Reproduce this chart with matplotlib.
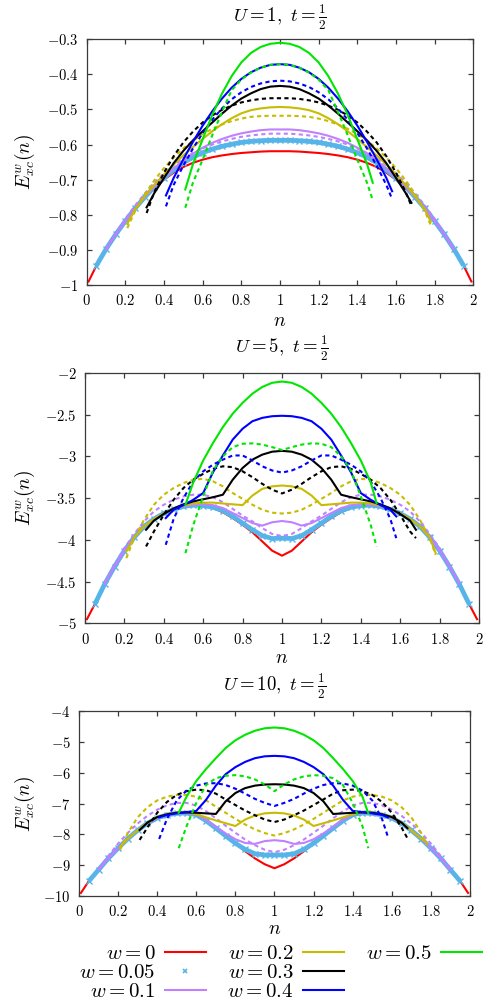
import matplotlib
matplotlib.use("Agg")
import matplotlib.pyplot as plt
from matplotlib.lines import Line2D
from matplotlib.ticker import FuncFormatter, MultipleLocator

plt.rcParams["font.family"] = ["serif"]
plt.rcParams["mathtext.fontset"] = "cm"

# n grids, one per ensemble weight w (curves live on roughly [w, 2-w])
n_w0 = [0.01, 0.05, 0.1, 0.15, 0.2, 0.25, 0.3, 0.35, 0.4, 0.45, 0.5, 0.55, 0.6, 0.65, 0.7, 0.75, 0.8, 0.85, 0.9, 0.95, 1.0,
        1.05, 1.1, 1.15, 1.2, 1.25, 1.3, 1.35, 1.4, 1.45, 1.5, 1.55, 1.6, 1.65, 1.7, 1.75, 1.8, 1.85, 1.9, 1.95, 1.99]
n_w005 = [0.05, 0.1, 0.15, 0.2, 0.25, 0.3, 0.35, 0.4, 0.45, 0.5, 0.55, 0.6, 0.65, 0.7, 0.75, 0.8, 0.85, 0.9, 0.95, 1.0,
          1.05, 1.1, 1.15, 1.2, 1.25, 1.3, 1.35, 1.4, 1.45, 1.5, 1.55, 1.6, 1.65, 1.7, 1.75, 1.8, 1.85, 1.9, 1.95]
n_w01 = [0.1, 0.15, 0.2, 0.25, 0.3, 0.35, 0.4, 0.45, 0.5, 0.55, 0.6, 0.65, 0.7, 0.75, 0.8, 0.85, 0.9, 0.95, 1.0,
         1.05, 1.1, 1.15, 1.2, 1.25, 1.3, 1.35, 1.4, 1.45, 1.5, 1.55, 1.6, 1.65, 1.7, 1.75, 1.8, 1.85, 1.9]
n_w02 = [0.21, 0.25, 0.3, 0.35, 0.4, 0.45, 0.5, 0.55, 0.6, 0.65, 0.7, 0.75, 0.8, 0.85, 0.9, 0.95, 1.0,
         1.05, 1.1, 1.15, 1.2, 1.25, 1.3, 1.35, 1.4, 1.45, 1.5, 1.55, 1.6, 1.65, 1.7, 1.75, 1.78]
n_w03 = [0.31, 0.35, 0.4, 0.45, 0.5, 0.55, 0.6, 0.65, 0.7, 0.75, 0.8, 0.85, 0.9, 0.95, 1.0,
         1.05, 1.1, 1.15, 1.2, 1.25, 1.3, 1.35, 1.4, 1.45, 1.5, 1.55, 1.6, 1.65, 1.68]
n_w04 = [0.41, 0.45, 0.5, 0.55, 0.6, 0.65, 0.7, 0.75, 0.8, 0.85, 0.9, 0.95, 1.0,
         1.05, 1.1, 1.15, 1.2, 1.25, 1.3, 1.35, 1.4, 1.45, 1.5, 1.55, 1.58]
n_w05 = [0.51, 0.55, 0.6, 0.65, 0.7, 0.75, 0.8, 0.85, 0.9, 0.95, 1.0,
         1.05, 1.1, 1.15, 1.2, 1.25, 1.3, 1.35, 1.4, 1.45, 1.48]

# ---- U = 1 ----
u1_w0 = [-0.990, -0.945, -0.898, -0.856, -0.818, -0.782, -0.751, -0.723, -0.700, -0.680, -0.664, -0.652, -0.643, -0.636,
         -0.631, -0.627, -0.624, -0.622, -0.620, -0.619, -0.619, -0.619, -0.620, -0.622, -0.624, -0.627, -0.631, -0.636,
         -0.643, -0.652, -0.664, -0.680, -0.700, -0.723, -0.751, -0.782, -0.818, -0.856, -0.898, -0.945, -0.990]
u1_w005 = [-0.945, -0.898, -0.856, -0.818, -0.782, -0.750, -0.721, -0.695, -0.672, -0.652, -0.636, -0.623, -0.613,
           -0.605, -0.599, -0.594, -0.591, -0.589, -0.588, -0.588, -0.588, -0.589, -0.591, -0.594, -0.599, -0.605,
           -0.613, -0.623, -0.636, -0.652, -0.672, -0.695, -0.721, -0.750, -0.782, -0.818, -0.856, -0.898, -0.945]
u1_w01 = [-0.898, -0.856, -0.818, -0.782, -0.750, -0.721, -0.694, -0.669, -0.646, -0.626, -0.609, -0.595, -0.584,
          -0.575, -0.568, -0.563, -0.559, -0.557, -0.557, -0.557, -0.559, -0.563, -0.568, -0.575, -0.584, -0.595,
          -0.609, -0.626, -0.646, -0.669, -0.694, -0.721, -0.750, -0.782, -0.818, -0.856, -0.898]
u1_w01_d = [-0.898, -0.853, -0.812, -0.774, -0.740, -0.709, -0.682, -0.659, -0.640, -0.624, -0.611, -0.600, -0.591,
            -0.584, -0.578, -0.574, -0.571, -0.569, -0.569, -0.569, -0.571, -0.574, -0.578, -0.584, -0.591, -0.600,
            -0.611, -0.624, -0.640, -0.659, -0.682, -0.709, -0.740, -0.774, -0.812, -0.853, -0.898]
u1_w02 = [-0.826, -0.785, -0.748, -0.715, -0.685, -0.657, -0.631, -0.607, -0.584, -0.562, -0.542, -0.525, -0.511,
          -0.502, -0.497, -0.494, -0.493, -0.494, -0.497, -0.502, -0.511, -0.525, -0.542, -0.562, -0.584, -0.607,
          -0.631, -0.657, -0.685, -0.715, -0.748, -0.785, -0.820]
u1_w02_d = [-0.838, -0.790, -0.742, -0.702, -0.667, -0.637, -0.611, -0.589, -0.570, -0.555, -0.543, -0.533, -0.526,
            -0.521, -0.519, -0.518, -0.518, -0.518, -0.519, -0.521, -0.526, -0.533, -0.543, -0.555, -0.570, -0.589,
            -0.611, -0.637, -0.667, -0.702, -0.742, -0.790, -0.830]
u1_w03 = [-0.779, -0.738, -0.695, -0.653, -0.618, -0.588, -0.562, -0.537, -0.512, -0.489, -0.469, -0.454, -0.442,
          -0.435, -0.433, -0.435, -0.442, -0.454, -0.469, -0.489, -0.512, -0.537, -0.562, -0.588, -0.618, -0.653,
          -0.695, -0.738, -0.766]
u1_w03_d = [-0.795, -0.735, -0.680, -0.633, -0.594, -0.563, -0.537, -0.517, -0.501, -0.489, -0.480, -0.474, -0.470,
            -0.468, -0.468, -0.468, -0.470, -0.474, -0.480, -0.489, -0.501, -0.517, -0.537, -0.563, -0.594, -0.633,
            -0.680, -0.735, -0.775]
u1_w04 = [-0.745, -0.695, -0.642, -0.592, -0.546, -0.505, -0.469, -0.438, -0.413, -0.394, -0.381, -0.373, -0.371,
          -0.373, -0.381, -0.394, -0.413, -0.438, -0.469, -0.505, -0.546, -0.592, -0.642, -0.695, -0.733]
u1_w04_d = [-0.776, -0.715, -0.660, -0.611, -0.567, -0.529, -0.497, -0.471, -0.451, -0.436, -0.426, -0.420, -0.418,
            -0.420, -0.426, -0.436, -0.451, -0.471, -0.497, -0.529, -0.567, -0.611, -0.660, -0.715, -0.755]
u1_w05 = [-0.728, -0.655, -0.585, -0.515, -0.455, -0.405, -0.366, -0.339, -0.322, -0.313, -0.310,
          -0.313, -0.322, -0.339, -0.366, -0.405, -0.455, -0.515, -0.585, -0.655, -0.709]
u1_w05_d = [-0.780, -0.708, -0.643, -0.573, -0.507, -0.445, -0.415, -0.395, -0.381, -0.373, -0.371,
            -0.373, -0.381, -0.395, -0.415, -0.445, -0.507, -0.573, -0.643, -0.708, -0.759]

# ---- U = 5 ----
u5_w0 = [-4.95, -4.77, -4.53, -4.32, -4.13, -3.97, -3.84, -3.75, -3.685, -3.635, -3.60, -3.585, -3.59, -3.62, -3.67,
         -3.74, -3.82, -3.91, -4.02, -4.13, -4.19, -4.13, -4.02, -3.91, -3.82, -3.74, -3.67, -3.62, -3.59, -3.585,
         -3.60, -3.635, -3.685, -3.75, -3.84, -3.97, -4.13, -4.32, -4.53, -4.77, -4.95]
u5_w005 = [-4.77, -4.53, -4.32, -4.13, -3.97, -3.84, -3.75, -3.685, -3.635, -3.60, -3.585, -3.59, -3.61, -3.65, -3.72,
           -3.80, -3.88, -3.95, -3.985, -3.98, -3.985, -3.95, -3.88, -3.80, -3.72, -3.65, -3.61, -3.59, -3.585, -3.60,
           -3.635, -3.685, -3.75, -3.84, -3.97, -4.13, -4.32, -4.53, -4.77]
u5_w01 = [-4.53, -4.32, -4.13, -3.97, -3.84, -3.75, -3.685, -3.63, -3.595, -3.58, -3.575, -3.585, -3.62, -3.68, -3.74,
          -3.80, -3.83, -3.79, -3.775, -3.79, -3.83, -3.80, -3.74, -3.68, -3.62, -3.585, -3.575, -3.58, -3.595, -3.63,
          -3.685, -3.75, -3.84, -3.97, -4.13, -4.32, -4.53]
u5_w01_d = [-4.52, -4.30, -4.10, -3.93, -3.78, -3.66, -3.58, -3.52, -3.48, -3.46, -3.46, -3.49, -3.55, -3.63, -3.71,
            -3.78, -3.86, -3.93, -3.955, -3.93, -3.86, -3.78, -3.71, -3.63, -3.55, -3.49, -3.46, -3.46, -3.48, -3.52,
            -3.58, -3.66, -3.78, -3.93, -4.10, -4.30, -4.52]
u5_w02 = [-4.14, -3.97, -3.84, -3.75, -3.685, -3.63, -3.59, -3.565, -3.555, -3.555, -3.565, -3.575, -3.585, -3.47,
          -3.39, -3.36, -3.35, -3.36, -3.39, -3.47, -3.585, -3.575, -3.565, -3.555, -3.555, -3.565, -3.59, -3.63,
          -3.685, -3.75, -3.84, -3.97, -4.16]
u5_w02_d = [-4.22, -3.98, -3.76, -3.58, -3.46, -3.38, -3.32, -3.28, -3.27, -3.30, -3.36, -3.44, -3.51, -3.58, -3.64,
            -3.675, -3.685, -3.675, -3.64, -3.58, -3.51, -3.44, -3.36, -3.30, -3.27, -3.28, -3.32, -3.38, -3.46,
            -3.58, -3.76, -3.98, -4.18]
u5_w03 = [-3.88, -3.77, -3.69, -3.625, -3.575, -3.54, -3.515, -3.49, -3.46, -3.28, -3.14, -3.04, -2.98, -2.945,
          -2.935, -2.945, -2.98, -3.04, -3.14, -3.28, -3.46, -3.49, -3.515, -3.54, -3.575, -3.625, -3.69, -3.77, -3.88]
u5_w03_d = [-4.08, -3.90, -3.70, -3.52, -3.38, -3.28, -3.21, -3.15, -3.12, -3.13, -3.18, -3.25, -3.33, -3.40, -3.445,
            -3.40, -3.33, -3.25, -3.18, -3.13, -3.12, -3.15, -3.21, -3.28, -3.38, -3.52, -3.70, -3.90, -3.98]
u5_w04 = [-3.74, -3.64, -3.585, -3.52, -3.44, -3.19, -2.99, -2.80, -2.67, -2.58, -2.54, -2.52, -2.515,
          -2.52, -2.54, -2.58, -2.67, -2.80, -2.99, -3.19, -3.44, -3.52, -3.585, -3.64, -3.72]
u5_w04_d = [-4.06, -3.75, -3.50, -3.30, -3.18, -3.10, -3.04, -2.99, -2.99, -3.05, -3.12, -3.17, -3.195,
            -3.17, -3.12, -3.05, -2.99, -2.99, -3.04, -3.10, -3.18, -3.30, -3.50, -3.75, -3.98]
u5_w05 = [-3.58, -3.31, -3.05, -2.84, -2.65, -2.49, -2.36, -2.25, -2.17, -2.12, -2.105,
          -2.12, -2.17, -2.25, -2.36, -2.49, -2.65, -2.84, -3.05, -3.31, -3.56]
u5_w05_d = [-4.16, -3.82, -3.48, -3.17, -3.00, -2.89, -2.85, -2.845, -2.86, -2.89, -2.925,
            -2.89, -2.86, -2.845, -2.85, -2.89, -3.00, -3.17, -3.48, -3.82, -4.08]

# ---- U = 10 ----
u10_w0 = [-9.90, -9.52, -9.15, -8.78, -8.45, -8.14, -7.87, -7.64, -7.47, -7.37, -7.32, -7.31, -7.36, -7.56, -7.80,
          -8.05, -8.30, -8.55, -8.78, -8.97, -9.10, -8.97, -8.78, -8.55, -8.30, -8.05, -7.80, -7.56, -7.36, -7.31,
          -7.32, -7.37, -7.47, -7.64, -7.87, -8.14, -8.45, -8.78, -9.15, -9.52, -9.90]
u10_w005 = [-9.52, -9.15, -8.78, -8.45, -8.14, -7.87, -7.64, -7.47, -7.37, -7.32, -7.31, -7.36, -7.56, -7.80, -8.05,
            -8.29, -8.49, -8.63, -8.67, -8.67, -8.67, -8.63, -8.49, -8.29, -8.05, -7.80, -7.56, -7.36, -7.31, -7.32,
            -7.37, -7.47, -7.64, -7.87, -8.14, -8.45, -8.78, -9.15, -9.52]
u10_w01 = [-9.15, -8.78, -8.45, -8.14, -7.87, -7.64, -7.47, -7.37, -7.32, -7.31, -7.35, -7.53, -7.75, -7.97, -8.16,
           -8.28, -8.31, -8.22, -8.19, -8.22, -8.31, -8.28, -8.16, -7.97, -7.75, -7.53, -7.35, -7.31, -7.32, -7.37,
           -7.47, -7.64, -7.87, -8.14, -8.45, -8.78, -9.15]
u10_w01_d = [-9.12, -8.70, -8.30, -7.95, -7.65, -7.40, -7.20, -7.06, -6.98, -6.98, -7.07, -7.25, -7.48, -7.72, -7.95,
             -8.17, -8.35, -8.50, -8.58, -8.50, -8.35, -8.17, -7.95, -7.72, -7.48, -7.25, -7.07, -6.98, -6.98, -7.06,
             -7.20, -7.40, -7.65, -7.95, -8.30, -8.70, -9.12]
u10_w02 = [-8.40, -8.14, -7.87, -7.62, -7.44, -7.34, -7.29, -7.29, -7.35, -7.45, -7.55, -7.64, -7.73, -7.52, -7.39,
           -7.32, -7.30, -7.32, -7.39, -7.52, -7.73, -7.64, -7.55, -7.45, -7.35, -7.29, -7.29, -7.34, -7.44, -7.62,
           -7.87, -8.14, -8.27]
u10_w02_d = [-8.50, -7.95, -7.45, -7.12, -6.90, -6.78, -6.72, -6.72, -6.78, -6.90, -7.10, -7.30, -7.50, -7.68, -7.84,
             -7.96, -8.04, -7.96, -7.84, -7.68, -7.50, -7.30, -7.10, -6.90, -6.78, -6.72, -6.72, -6.78, -6.90, -7.12,
             -7.45, -7.95, -8.35]
u10_w03 = [-7.86, -7.62, -7.44, -7.35, -7.30, -7.29, -7.30, -7.32, -7.34, -6.93, -6.66, -6.50, -6.42, -6.385, -6.375,
           -6.385, -6.42, -6.50, -6.66, -6.93, -7.34, -7.32, -7.30, -7.29, -7.30, -7.35, -7.44, -7.62, -7.80]
u10_w03_d = [-8.18, -7.78, -7.30, -6.95, -6.72, -6.60, -6.55, -6.57, -6.68, -6.87, -7.05, -7.23, -7.38, -7.52, -7.60,
             -7.52, -7.38, -7.23, -7.05, -6.87, -6.68, -6.57, -6.55, -6.60, -6.72, -6.95, -7.30, -7.78, -8.13]
u10_w04 = [-7.45, -7.37, -7.32, -7.28, -7.24, -6.88, -6.42, -6.05, -5.82, -5.65, -5.53, -5.47, -5.455,
           -5.47, -5.53, -5.65, -5.82, -6.05, -6.42, -6.88, -7.24, -7.28, -7.32, -7.37, -7.45]
u10_w04_d = [-8.15, -7.50, -6.90, -6.58, -6.42, -6.35, -6.34, -6.40, -6.52, -6.68, -6.85, -6.98, -7.08,
             -6.98, -6.85, -6.68, -6.52, -6.40, -6.34, -6.35, -6.42, -6.58, -6.90, -7.50, -8.08]
u10_w05 = [-7.30, -6.78, -6.27, -5.88, -5.53, -5.20, -4.95, -4.77, -4.64, -4.56, -4.535,
           -4.56, -4.64, -4.77, -4.95, -5.20, -5.53, -5.88, -6.27, -6.78, -7.32]
u10_w05_d = [-8.45, -7.74, -6.98, -6.40, -6.18, -6.10, -6.08, -6.12, -6.22, -6.38, -6.60,
             -6.38, -6.22, -6.12, -6.08, -6.10, -6.18, -6.40, -6.98, -7.74, -8.45]

w_labels = ["0", "0.05", "0.1", "0.2", "0.3", "0.4", "0.5"]
w_colors = ["#ff0000", "#56b4e9", "#c080ff", "#c8bc00", "#000000", "#0000ff", "#00e600"]
n_grids = [n_w0, n_w005, n_w01, n_w02, n_w03, n_w04, n_w05]

panels = [
    dict(title=r"$U = 1,\ t = \frac{1}{2}$", ylim=(-1, -0.3), ystep=0.1,
         solid=[u1_w0, u1_w005, u1_w01, u1_w02, u1_w03, u1_w04, u1_w05],
         dashed=[None, None, u1_w01_d, u1_w02_d, u1_w03_d, u1_w04_d, u1_w05_d],
         rect=[0.1737, 0.7153, 0.7748, 0.2455], title_off=16, xlab_off=26),
    dict(title=r"$U = 5,\ t = \frac{1}{2}$", ylim=(-5, -2), ystep=0.5,
         solid=[u5_w0, u5_w005, u5_w01, u5_w02, u5_w03, u5_w04, u5_w05],
         dashed=[None, None, u5_w01_d, u5_w02_d, u5_w03_d, u5_w04_d, u5_w05_d],
         rect=[0.1703, 0.3773, 0.7896, 0.2503], title_off=18, xlab_off=25),
    dict(title=r"$U = 10,\ t = \frac{1}{2}$", ylim=(-10, -4), ystep=1,
         solid=[u10_w0, u10_w005, u10_w01, u10_w02, u10_w03, u10_w04, u10_w05],
         dashed=[None, None, u10_w01_d, u10_w02_d, u10_w03_d, u10_w04_d, u10_w05_d],
         rect=[0.1583, 0.1049, 0.7836, 0.1848], title_off=18, xlab_off=24),
]

fig = plt.figure(figsize=(4.99, 10.01), dpi=100)
fmt = FuncFormatter(lambda v, p: f"${v:g}$")
frame = "#3a3a3a"

for p in panels:
    ax = fig.add_axes(p["rect"])
    for i in range(len(w_labels)):
        n = n_grids[i]
        c = w_colors[i]
        if i == 1:
            # w = 0.05 is drawn with dense crosses -> thick band
            ax.plot(n, p["solid"][i], color=c, lw=3.4, solid_capstyle="butt", zorder=2 + i)
            ax.plot(n, p["solid"][i], color=c, ls="none", marker="x", ms=4, mew=1.0, zorder=2 + i)
        else:
            ax.plot(n, p["solid"][i], color=c, lw=1.5, zorder=2 + i)
        if p["dashed"][i] is not None:
            ax.plot(n, p["dashed"][i], color=c, lw=1.5, ls=(0, (2, 1.6)), zorder=2 + i)

    ax.set_xlim(0, 2)
    ax.set_ylim(*p["ylim"])
    ax.xaxis.set_major_locator(MultipleLocator(0.2))
    ax.yaxis.set_major_locator(MultipleLocator(p["ystep"]))
    ax.xaxis.set_major_formatter(fmt)
    ax.yaxis.set_major_formatter(fmt)
    ax.tick_params(direction="in", top=True, right=True, length=3.6, width=0.9,
                   color=frame, labelsize=10.5, pad=6)
    for s in ax.spines.values():
        s.set_color(frame)
        s.set_linewidth(0.9)

    ax.annotate(p["title"], xy=(0.5, 1), xycoords="axes fraction", xytext=(0, p["title_off"]),
                textcoords="offset points", ha="center", va="center", fontsize=13.5)
    ax.annotate(r"$n$", xy=(0.5, 0), xycoords="axes fraction", xytext=(0, -p["xlab_off"]),
                textcoords="offset points", ha="center", va="center", fontsize=14)
    r = p["rect"]
    fig.text(25 / 499, r[1] + r[3] / 2, r"$E^w_{xc}(n)$", rotation=90, ha="center", va="center", fontsize=14)

handles = []
labels = []
for i in range(len(w_labels)):
    if i == 1:
        handles.append(Line2D([], [], color=w_colors[i], ls="none", marker="x", ms=3, mew=1.2))
    else:
        handles.append(Line2D([], [], color=w_colors[i], lw=1.5))
    labels.append(rf"$w = {w_labels[i]}$")
# two blank slots so the last column holds only w = 0.5
for k in range(2):
    handles.append(Line2D([], [], alpha=0))
    labels.append(" ")
fig.legend(handles, labels, loc="center", bbox_to_anchor=(0.562, 0.028), ncol=3, markerfirst=False,
           frameon=False, fontsize=15, handlelength=1.95, handletextpad=0.45, columnspacing=1.05,
           labelspacing=0.0, borderpad=0)

fig.savefig("out.png", dpi=100)
